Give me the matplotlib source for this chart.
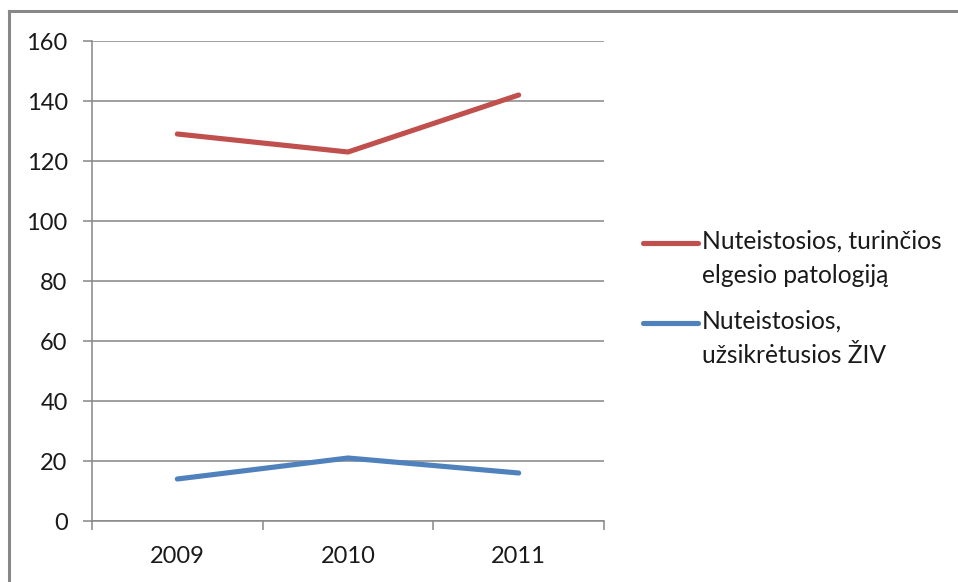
import matplotlib.pyplot as plt
from matplotlib.lines import Line2D

plt.rcParams["font.family"] = ["Lato", "DejaVu Sans"]

years = ["2009", "2010", "2011"]
behaviour = [129, 123, 142]
hiv = [14, 21, 16]
labels = ["Nuteistosios, turinčios\nelgesio patologiją", "Nuteistosios,\nužsikrėtusios ŽIV"]
colors = ["#C0504D", "#4F81BD"]

fig = plt.figure(figsize=(9.58, 5.82), dpi=100)
ax = fig.add_axes([92 / 958, 61 / 582, 512 / 958, 480 / 582])

x = range(1, len(years) + 1)
ax.plot(x, behaviour, color=colors[0], lw=3.7, solid_capstyle="round")
ax.plot(x, hiv, color=colors[1], lw=3.7, solid_capstyle="round")

ax.set_xlim(0.5, len(years) + 0.5)
ax.set_ylim(0, 160)
ax.set_yticks(range(0, 161, 20))
ax.set_xticks(list(x))
ax.set_xticklabels(years)
ax.set_xticks([i + 0.5 for i in range(len(years) + 1)], minor=True)

ax.grid(axis="y", color="#868686", lw=1.1)
ax.set_axisbelow(True)
for s in ["top", "right"]:
    ax.spines[s].set_visible(False)
for s in ["left", "bottom"]:
    ax.spines[s].set_color("#868686")
    ax.spines[s].set_linewidth(1.1)

ax.tick_params(axis="y", length=6.5, width=1.1, color="#868686", pad=11,
               labelsize=17, labelcolor="#1a1a1a")
ax.tick_params(axis="x", which="major", length=0, pad=18, labelsize=17, labelcolor="#1a1a1a")
ax.tick_params(axis="x", which="minor", length=6.5, width=1.1, color="#868686")

# legend
for i, (lab, c) in enumerate(zip(labels, colors)):
    y = 1 - (243 + 80 * i) / 582
    fig.add_artist(Line2D([643 / 958, 698 / 958], [y, y], color=c, lw=3.7,
                          solid_capstyle="round", transform=fig.transFigure))
    fig.text(702 / 958, y + 13 / 582, lab, fontsize=17.7, color="#1a1a1a",
             va="top", ha="left", linespacing=1.6)

# outer frame (top and left only visible)
fig.add_artist(Line2D([9 / 958, 9 / 958], [0, 1 - 11 / 582], color="#888888", lw=2.2,
                      transform=fig.transFigure))
fig.add_artist(Line2D([9 / 958, 1], [1 - 11 / 582, 1 - 11 / 582], color="#888888", lw=2.2,
                      transform=fig.transFigure))

fig.savefig("out.png", dpi=100)
